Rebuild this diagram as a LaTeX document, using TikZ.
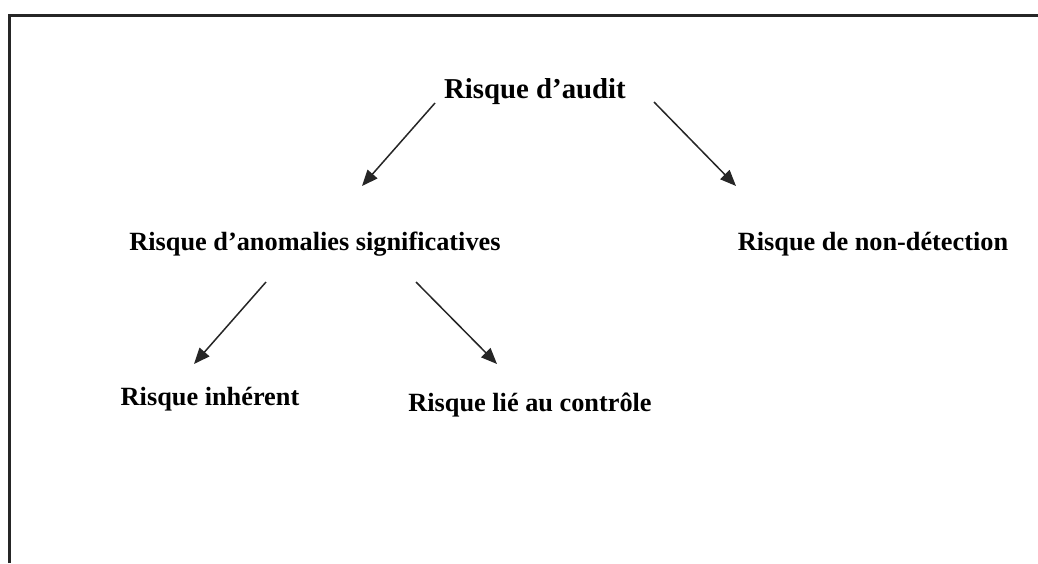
\documentclass[tikz,border=0pt]{standalone}
\usepackage{fontspec}
\setmainfont{Liberation Serif}
\usetikzlibrary{arrows.meta}
\tikzset{
  lbl/.style={font=\bfseries\fontsize{26.3}{30}\selectfont, inner sep=0pt, anchor=base},
  ttl/.style={font=\bfseries\fontsize{28.8}{32}\selectfont, inner sep=0pt, anchor=base},
  arr/.style={draw=black!85, line width=1.5pt, -{Triangle[length=16pt,width=13pt]}},
  frame/.style={draw=black!85, line width=3pt}
}
\begin{document}
\begin{tikzpicture}[x=1pt,y=-1pt]
\useasboundingbox (0,0) rectangle (1038,563);
\coordinate (fb) at (9.5,563);
\coordinate (fc) at (9.5,15);
\coordinate (fr) at (1038,15);
\draw[frame] (fb) -- (fc) -- (fr);
\node[ttl] (audit) at (535,98) {Risque d’audit};
\node[lbl] (anom) at (315,250) {Risque d’anomalies significatives};
\node[lbl] (nondet) at (873,250) {Risque de non-détection};
\node[lbl] (inh) at (210,405) {Risque inhérent};
\node[lbl] (ctrl) at (530,411) {Risque lié au contrôle};
\coordinate (a1s) at (435,103);
\coordinate (a1e) at (362,186);
\coordinate (a2s) at (654,102);
\coordinate (a2e) at (736,186);
\coordinate (a3s) at (266,282);
\coordinate (a3e) at (194,364);
\coordinate (a4s) at (416,282);
\coordinate (a4e) at (497,364);
\draw[arr] (a1s) -- (a1e);
\draw[arr] (a2s) -- (a2e);
\draw[arr] (a3s) -- (a3e);
\draw[arr] (a4s) -- (a4e);
\end{tikzpicture}
\end{document}
